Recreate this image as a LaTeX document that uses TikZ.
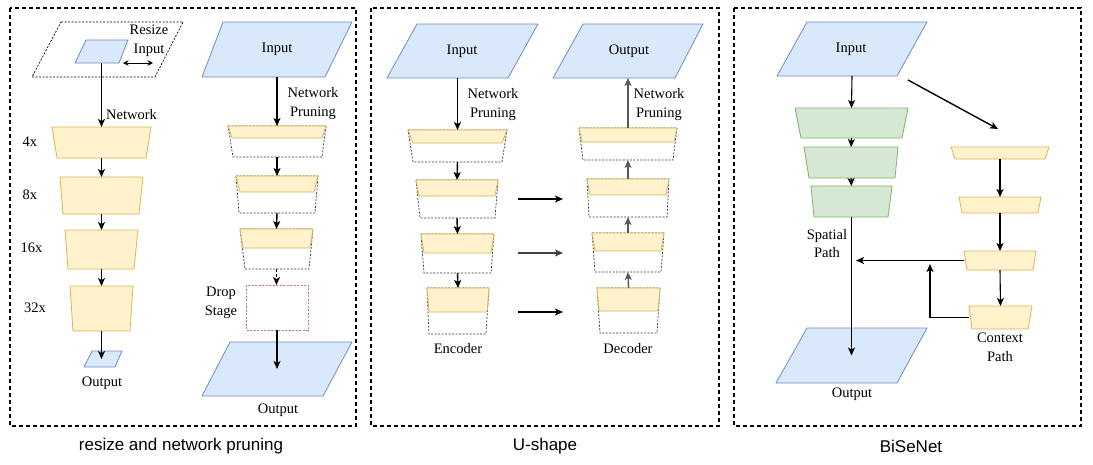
\documentclass[tikz,border=0pt]{standalone}
\usepackage{fontspec}
\setmainfont{Liberation Serif}
\newfontfamily\capfont{Liberation Sans}
\usetikzlibrary{arrows.meta,fit}
\definecolor{bfill}{HTML}{DAE8FC}
\definecolor{bdraw}{HTML}{6C8EBF}
\definecolor{yfill}{HTML}{FFF2CC}
\definecolor{ydraw}{HTML}{D6B656}
\definecolor{gfill}{HTML}{D5E8D4}
\definecolor{gdraw}{HTML}{82B366}
\definecolor{rdash}{HTML}{D97070}
% generic quadrilateral: name, ytop, xtl, xtr, ybot, xbl, xbr, style
\newcommand\shp[8]{%
  \draw[#8] (#3,#2) -- (#4,#2) -- (#7,#5) -- (#6,#5) -- cycle;
  \node[inner sep=0pt,outer sep=0pt,fit={(#3,#2) (#4,#2) (#6,#5) (#7,#5)}] (#1) {};
}
% pruned block: name, ytop, xtl, xtr, ymid, inset, ybot, xbl, xbr
\newcommand\pblk[9]{%
  \draw[prunebox] (#3,#2) -- (#4,#2) -- (#9,#7) -- (#8,#7) -- cycle;
  \draw[yelbox] (#3,#2) -- (#4,#2) -- ({#4-#6},#5) -- ({#3+#6},#5) -- cycle;
  \node[inner sep=0pt,outer sep=0pt,fit={(#3,#2) (#4,#2) (#8,#7) (#9,#7)}] (#1) {};
}
\tikzset{
  bluebox/.style={fill=bfill,draw=bdraw,line width=0.8pt,line join=round},
  yelbox/.style={fill=yfill,draw=ydraw,line width=0.8pt,line join=round},
  grnbox/.style={fill=gfill,draw=gdraw,line width=0.8pt,line join=round},
  prunebox/.style={draw=black!80,line width=0.7pt,dash pattern=on 2pt off 1.5pt},
  rszbox/.style={draw=black,line width=0.7pt,dash pattern=on 2pt off 1.5pt},
  dropbox/.style={draw=rdash,line width=0.8pt,dash pattern=on 2pt off 1.5pt},
  panelbox/.style={draw=black,line width=1.2pt,dash pattern=on 4pt off 3pt},
  arr/.style={-{Stealth[length=8pt,width=7pt,inset=2pt]},line width=1.4pt},
  arrthin/.style={-{Stealth[length=8pt,width=7pt,inset=2pt]},line width=1.1pt},
  dblarr/.style={{Stealth[length=5.5pt,width=5.5pt]}-{Stealth[length=5.5pt,width=5.5pt]},line width=1pt},
  lbl/.style={font=\fontsize{14.5}{19}\selectfont,inner sep=0pt,align=center},
  captxt/.style={font=\capfont\fontsize{17}{20}\selectfont,inner sep=0pt},
}
\begin{document}
\begin{tikzpicture}[x=1pt,y=-1pt]
\useasboundingbox (0,0) rectangle (1093,464);
% panels
\draw[panelbox] (10,8) rectangle (356,426);
\draw[panelbox] (371,8) rectangle (719,426);
\draw[panelbox] (734,8) rectangle (1081,426);
\node[captxt] (cap1) at (181,446) {resize and network pruning};
\node[captxt] (cap2) at (545,446) {U-shape};
\node[captxt] (cap3) at (911,446) {BiSeNet};

% ===== Panel 1, left column =====
\shp{rsz}{22}{61}{183}{77}{32}{155}{rszbox}
\shp{p1in}{40}{86}{128}{63}{75}{119}{bluebox}
\node[lbl] (rsztxt) at (149,40.5) {Resize\\Input};
\coordinate (da1) at (123,63);
\coordinate (da2) at (153,63);
\draw[dblarr] (da1) -- (da2);
\shp{s4}{127}{52}{151}{158}{57}{146}{yelbox}
\shp{s8}{177}{60}{143}{214}{63}{139}{yelbox}
\shp{s16}{230}{65}{138}{269}{68}{134}{yelbox}
\shp{s32}{286}{70}{133}{331}{73}{130}{yelbox}
\shp{p1out}{351}{92}{122}{367}{84}{115}{bluebox}
\draw[arrthin] (p1in.south) -- (s4.north);
\draw[arrthin] (s4.south) -- (s8.north);
\draw[arrthin] (s8.south) -- (s16.north);
\draw[arrthin] (s16.south) -- (s32.north);
\draw[arr] (s32.south) -- (s32.south |- p1out.center);
\node[lbl,anchor=west] (netl) at (106,115) {Network};
\node[lbl] (l4) at (30,142) {4x};
\node[lbl] (l8) at (30,195) {8x};
\node[lbl] (l16) at (31.5,248) {16x};
\node[lbl] (l32) at (35,308) {32x};
\node[lbl] (p1outl) at (102,383) {Output};

% ===== Panel 1, right column =====
\shp{p1rin}{22}{223}{352}{77}{202}{325}{bluebox}
\node[lbl] (p1rint) at (p1rin) {Input};
\pblk{pr1}{126}{228}{326}{138}{4}{157}{233}{322}
\pblk{pr2}{176}{236}{318}{192}{4}{213}{239}{315}
\pblk{pr3}{229}{240}{313}{248}{3}{269}{245}{309}
\draw[dropbox] (246,285) rectangle (308,330);
\node[inner sep=0pt,outer sep=0pt,fit={(246,285) (308,330)}] (drop) {};
\shp{p1rout}{342}{230}{352}{396}{202}{323}{bluebox}
\draw[arr] (p1rin.south) -- (pr1.north);
\draw[arr] (pr1.south) -- (pr2.north);
\draw[arr] (pr2.south) -- (pr3.north);
\draw[arr,dash pattern=on 3pt off 2pt] (pr3.south) -- (pr3.south |- drop.north);
\draw[arr] (drop.south) -- (drop.south |- p1rout.center);
\node[lbl] (npr1) at (313,104) {Network\\Pruning};
\node[lbl] (dropl) at (221,303) {Drop\\Stage};
\node[lbl] (p1routl) at (278,410) {Output};

% ===== Panel 2: U-shape =====
\shp{uin}{24}{417}{538}{78}{387}{508}{bluebox}
\node[lbl] (uint) at (462,51) {Input};
\pblk{enc1}{130}{408}{507}{143}{5}{162}{413}{502}
\pblk{enc2}{180}{416}{498}{196}{3}{218}{420}{495}
\pblk{enc3}{234}{421}{494}{253}{3}{273}{424}{491}
\pblk{enc4}{288}{427}{489}{312}{2}{334}{429}{486}
\draw[arr] (enc1.north |- uin.south) -- (enc1.north);
\draw[arr] (enc1.south) -- (enc2.north);
\draw[arr] (enc2.south) -- (enc3.north);
\draw[arr] (enc3.south) -- (enc4.north);
\node[lbl] (npr2) at (493,105) {Network\\Pruning};
\node[lbl] (encl) at (458,349) {Encoder};

\shp{uout}{24}{583}{703}{78}{553}{675}{bluebox}
\node[lbl] (uoutt) at (629,51) {Output};
\pblk{dec1}{128}{579}{677}{142}{3}{160}{583}{673}
\pblk{dec2}{179}{587}{669}{195}{3}{217}{589}{667}
\pblk{dec3}{233}{592}{664}{251}{3}{272}{595}{661}
\pblk{dec4}{288}{597}{660}{311}{2}{333}{600}{657}
\draw[arr,draw=black!65] (dec1.north) -- (dec1.north |- uout.south);
\draw[arr,draw=black!65] (dec2.north) -- (dec1.south);
\draw[arr,draw=black!65] (dec3.north) -- (dec2.south);
\draw[arr,draw=black!65] (dec4.north) -- (dec3.south);
\node[lbl] (npr3) at (659,105) {Network\\Pruning};
\node[lbl] (decl) at (628,349) {Decoder};
\coordinate (h1a) at (518,199); \coordinate (h1b) at (563,199);
\coordinate (h2a) at (518,253); \coordinate (h2b) at (563,253);
\coordinate (h3a) at (518,312); \coordinate (h3b) at (563,312);
\draw[arr] (h1a) -- (h1b);
\draw[arr,draw=black!75] (h2a) -- (h2b);
\draw[arr] (h3a) -- (h3b);

% ===== Panel 3: BiSeNet =====
\shp{bin}{22}{807}{927}{76}{777}{897}{bluebox}
\node[lbl] (bint) at (851,49) {Input};
\shp{g1}{108}{795}{908}{138}{801}{902}{grnbox}
\shp{g2}{147}{804}{898}{178}{809}{895}{grnbox}
\shp{g3}{186}{811}{892}{217}{814}{888}{grnbox}
\shp{bout}{328}{807}{927}{383}{776}{897}{bluebox}
\draw[arrthin] (bin.south) -- (g1.north);
\draw[arrthin] (g1.south) -- (g2.north);
\draw[arrthin] (g2.south) -- (g3.north);
\draw[arr] (g3.south) -- (g3.south |- bout.center);
\node[lbl,font=\fontsize{14.5}{18}\selectfont] (spl) at (827,244) {Spatial\\Path};
\node[lbl] (boutl) at (852,394) {Output};

\shp{c1}{147}{951}{1049}{159}{955}{1045}{yelbox}
\shp{c2}{197}{959}{1041}{213}{962}{1038}{yelbox}
\shp{c3}{251}{964}{1036}{270}{967}{1033}{yelbox}
\shp{c4}{306}{969}{1032}{329}{972}{1028}{yelbox}
\coordinate (dg1) at (908,80);
\coordinate (dg2) at (998,129);
\draw[arr] (dg1) -- (dg2);
\draw[arrthin] (c1.south) -- (c2.north);
\draw[arrthin] (c2.south) -- (c3.north);
\draw[arrthin] (c3.south) -- (c4.north);
\coordinate (fuse) at (856,260.5);
\coordinate (cj) at (930,264);
\draw[arr] (c3.west) -- (fuse);
\draw[arr] (c4.west) -| (cj);
\node[lbl] (cpl) at (1000,347.5) {Context\\Path};
\end{tikzpicture}
\end{document}
